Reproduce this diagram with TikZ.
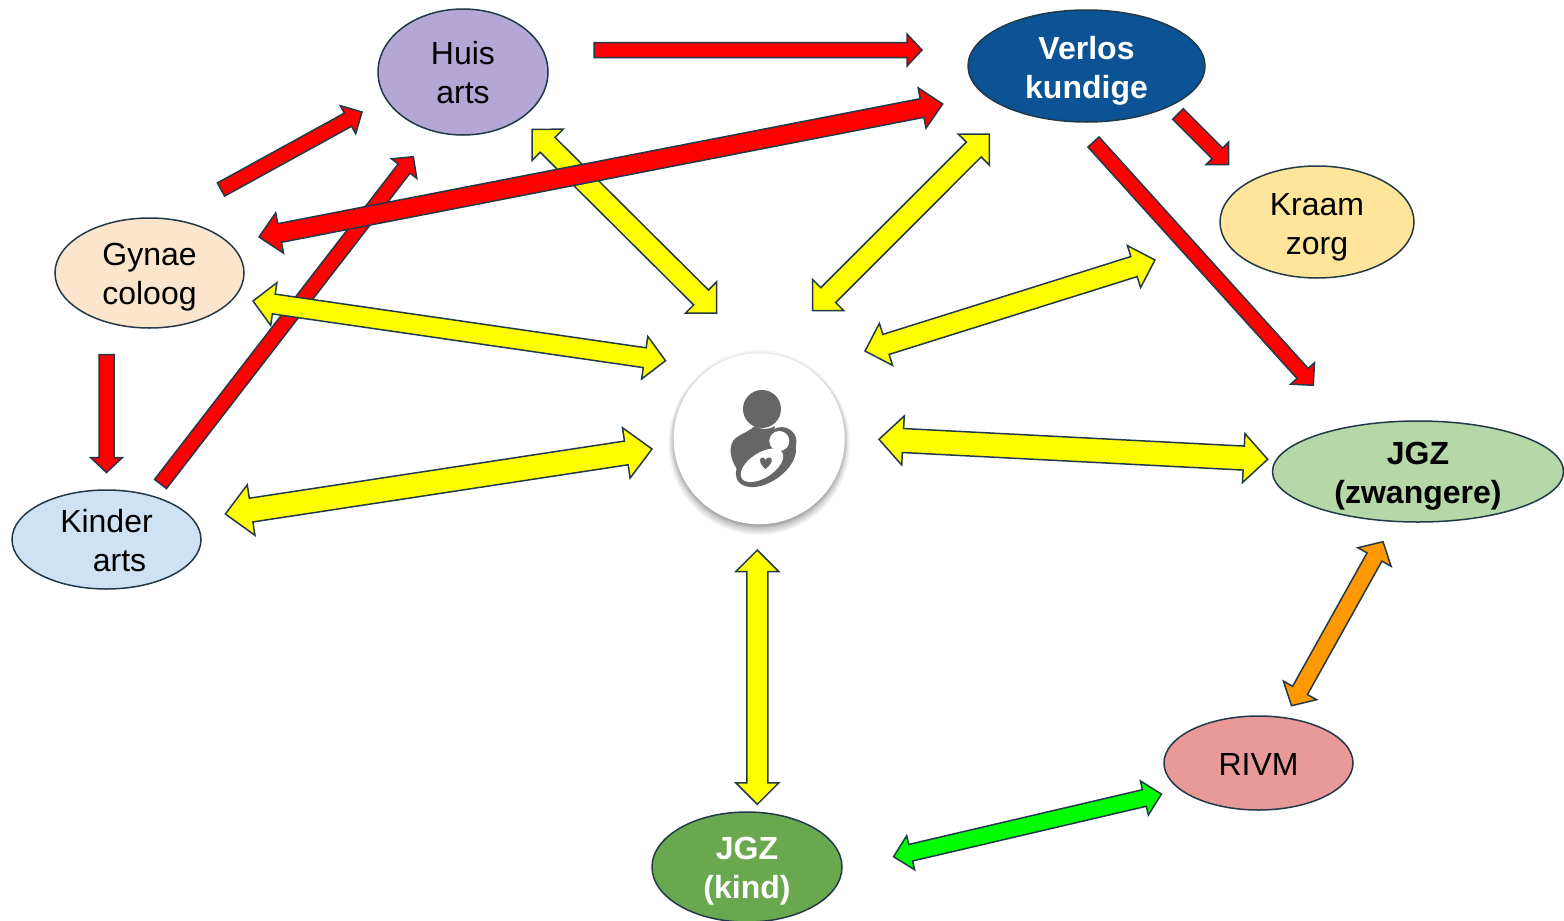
\documentclass[tikz,border=0pt]{standalone}
\usepackage{fontspec}
\setmainfont{Liberation Sans}
\usetikzlibrary{calc,shapes.geometric}
\definecolor{edgeink}{HTML}{22394A}
\definecolor{iconink}{HTML}{666666}
\definecolor{huisfill}{HTML}{B4A7D6}
\definecolor{verlosfill}{HTML}{0B5394}
\definecolor{kraamfill}{HTML}{FFE599}
\definecolor{gynfill}{HTML}{FCE5CD}
\definecolor{kinderfill}{HTML}{CFE2F3}
\definecolor{zwfill}{HTML}{B6D7A8}
\definecolor{rivmfill}{HTML}{EA9999}
\definecolor{kindfill}{HTML}{6AA84F}
\definecolor{orangearrow}{HTML}{FF9900}
\definecolor{greenarrow}{HTML}{00FF00}
\definecolor{yellowarrow}{HTML}{FFFF00}
\definecolor{redarrow}{HTML}{FF0000}
\tikzset{
  blockline/.style={draw=edgeink,line width=1.5pt,line join=miter,miter limit=10},
  party/.style={ellipse,draw=edgeink,line width=1.5pt,inner sep=0pt,outer sep=0pt},
  partytext/.style={inner sep=0pt,align=center,font=\fontsize{32}{39}\selectfont,text=black},
  partybold/.style={partytext,font=\fontsize{32}{39}\selectfont\bfseries},
}
% #1 colour, #2 tail, #3 tip, #4 half shaft, #5 half head, #6 head length
\newcommand\onearrow[6]{%
  \path[blockline,fill=#1]
    ($(#2)!#4pt!90:(#3)$) -- ($($(#3)!#6pt!(#2)$)!#4pt!-90:(#2)$) -- ($($(#3)!#6pt!(#2)$)!#5pt!-90:(#2)$) -- (#3)
    -- ($($(#3)!#6pt!(#2)$)!#5pt!90:(#2)$) -- ($($(#3)!#6pt!(#2)$)!#4pt!90:(#2)$) -- ($(#2)!#4pt!-90:(#3)$) -- cycle;}
\newcommand\twoarrow[6]{%
  \path[blockline,fill=#1]
    (#2) -- ($($(#2)!#6pt!(#3)$)!#5pt!90:(#3)$) -- ($($(#2)!#6pt!(#3)$)!#4pt!90:(#3)$)
    -- ($($(#3)!#6pt!(#2)$)!#4pt!-90:(#2)$) -- ($($(#3)!#6pt!(#2)$)!#5pt!-90:(#2)$) -- (#3)
    -- ($($(#3)!#6pt!(#2)$)!#5pt!90:(#2)$) -- ($($(#3)!#6pt!(#2)$)!#4pt!90:(#2)$)
    -- ($($(#2)!#6pt!(#3)$)!#4pt!-90:(#3)$) -- ($($(#2)!#6pt!(#3)$)!#5pt!-90:(#3)$) -- cycle;}
\begin{document}
\begin{tikzpicture}[x=1pt,y=-1pt]
\useasboundingbox (0,0) rectangle (1564,921);
\fill[white] (0,0) rectangle (1564,921);

% arrow ends
\coordinate (r1a) at (594,50);      \coordinate (r1b) at (922,50);
\coordinate (r2a) at (221,189.5);   \coordinate (r2b) at (362,112);
\coordinate (r3a) at (160.5,484);   \coordinate (r3b) at (413.3,156.7);
\coordinate (r4a) at (106.5,354.5); \coordinate (r4b) at (106.5,472.5);
\coordinate (r5a) at (1178,114);    \coordinate (r5b) at (1228.7,164.7);
\coordinate (r6a) at (1093.5,142);  \coordinate (r6b) at (1313.3,385.3);
\coordinate (r7a) at (259,237);     \coordinate (r7b) at (942.7,104);
\coordinate (y1a) at (532,129.3);   \coordinate (y1b) at (716.7,313);
\coordinate (y2a) at (989.3,134);   \coordinate (y2b) at (812.7,310.7);
\coordinate (y3a) at (253,301);     \coordinate (y3b) at (665.5,360.7);
\coordinate (y4a) at (225.4,514);   \coordinate (y4b) at (652,449);
\coordinate (y5a) at (865,351);     \coordinate (y5b) at (1155,260);
\coordinate (y6a) at (879,439.3);   \coordinate (y6b) at (1267.7,459.3);
\coordinate (y7a) at (757.3,550);   \coordinate (y7b) at (757.3,804.3);
\coordinate (o1a) at (1291.5,705.7);\coordinate (o1b) at (1383,541.7);
\coordinate (g1a) at (893.6,856.7); \coordinate (g1b) at (1161.4,794);

% arrows, bottom to top
\onearrow{redarrow}{r1a}{r1b}{7.5}{16}{15}
\onearrow{redarrow}{r2a}{r2b}{7.5}{16}{16}
\onearrow{redarrow}{r3a}{r3b}{7.5}{16}{15}
\onearrow{redarrow}{r4a}{r4b}{7.5}{16}{15}
\onearrow{redarrow}{r5a}{r5b}{7.5}{16}{16}
\onearrow{redarrow}{r6a}{r6b}{7.5}{16}{16}
\twoarrow{yellowarrow}{y1a}{y1b}{10.5}{22}{22}
\twoarrow{yellowarrow}{y2a}{y2b}{10.5}{22}{22}
\twoarrow{yellowarrow}{y3a}{y3b}{10}{21.5}{21}
\twoarrow{yellowarrow}{y4a}{y4b}{12}{25.5}{26}
\twoarrow{yellowarrow}{y5a}{y5b}{10.5}{22}{22}
\twoarrow{yellowarrow}{y6a}{y6b}{12}{24.5}{24}
\twoarrow{yellowarrow}{y7a}{y7b}{10.5}{21.5}{21.5}
\twoarrow{redarrow}{r7a}{r7b}{9.5}{20.5}{21}
\twoarrow{orangearrow}{o1a}{o1b}{8.5}{19}{17.5}
\twoarrow{greenarrow}{g1a}{g1b}{8.5}{17.5}{17.5}

% parties
\node[party,fill=huisfill,minimum width=170pt,minimum height=126pt,
  label={[partytext,yshift=-1pt]center:Huis\\arts}] (huis) at (463,72) {};
\node[party,fill=verlosfill,minimum width=237pt,minimum height=112pt,
  label={[partybold,text=white,yshift=-4.5pt]center:Verlos\\kundige}] (verlos) at (1086.5,66) {};
\node[party,fill=kraamfill,minimum width=194pt,minimum height=112pt,
  label={[partytext,yshift=-5pt]center:Kraam\\zorg}] (kraam) at (1317,222) {};
\node[party,fill=gynfill,minimum width=189pt,minimum height=110pt,
  label={[partytext,yshift=-4.5pt]center:Gynae\\coloog}] (gyn) at (149.5,273) {};
\node[party,fill=kinderfill,minimum width=189pt,minimum height=99pt,
  label={[partytext,yshift=-1pt]center:Kinder\\\hspace*{26pt}arts}] (kinder) at (106.5,539.5) {};
\node[party,fill=zwfill,minimum width=291pt,minimum height=101pt,
  label={[partybold,yshift=-4.5pt]center:JGZ\\(zwangere)}] (zw) at (1418,471.5) {};
\node[party,fill=rivmfill,minimum width=189pt,minimum height=94pt,
  label={[partytext,yshift=-1pt]center:RIVM}] (rivm) at (1258.5,763) {};
\node[party,fill=kindfill,minimum width=190pt,minimum height=110pt,
  label={[partybold,text=white,yshift=-4.5pt]center:JGZ\\(kind)}] (kind) at (747,867) {};

% centre badge: soft shadow, disc, icon
\foreach \s in {11,10,...,0}
  \fill[black,opacity=0.03] (759.2,444) circle[radius=80pt+\s pt];
\foreach \s in {3,2,1}
  \fill[black,opacity=0.025] (759.2,438.8) circle[radius=86pt+\s pt];
\node[circle,fill=white,minimum size=171pt,inner sep=0pt,outer sep=0pt] (mother) at (759.2,438.8) {};
\begin{scope}[shift={(660,340)},x=0.3333pt,y=-0.3333pt]
  \fill[iconink] (306,207) circle[radius=19pt];
  \fill[iconink] (285,258) .. controls (255,285) and (215,285) .. (212,325)
     .. controls (210,360) and (228,385) .. (245,405) -- (330,330) -- (345,258)
     .. controls (325,270) and (305,270) .. (285,258) -- cycle;
  \fill[iconink] (365,305) circle[x radius=14.8pt,y radius=14.5pt];
  \fill[iconink] (318,365) circle[x radius=34pt,y radius=20pt,rotate=35];
  \fill[white] (358,303) circle[radius=10pt];
  \fill[white] (306,376) circle[x radius=24pt,y radius=12.5pt,rotate=33];
  \fill[iconink] (316,387) .. controls (300,372) and (298,362) .. (302,355)
     .. controls (307,349) and (314,352) .. (317,360)
     .. controls (321,351) and (330,350) .. (335,357)
     .. controls (338,367) and (328,378) .. (316,387) -- cycle;
\end{scope}
\end{tikzpicture}
\end{document}
